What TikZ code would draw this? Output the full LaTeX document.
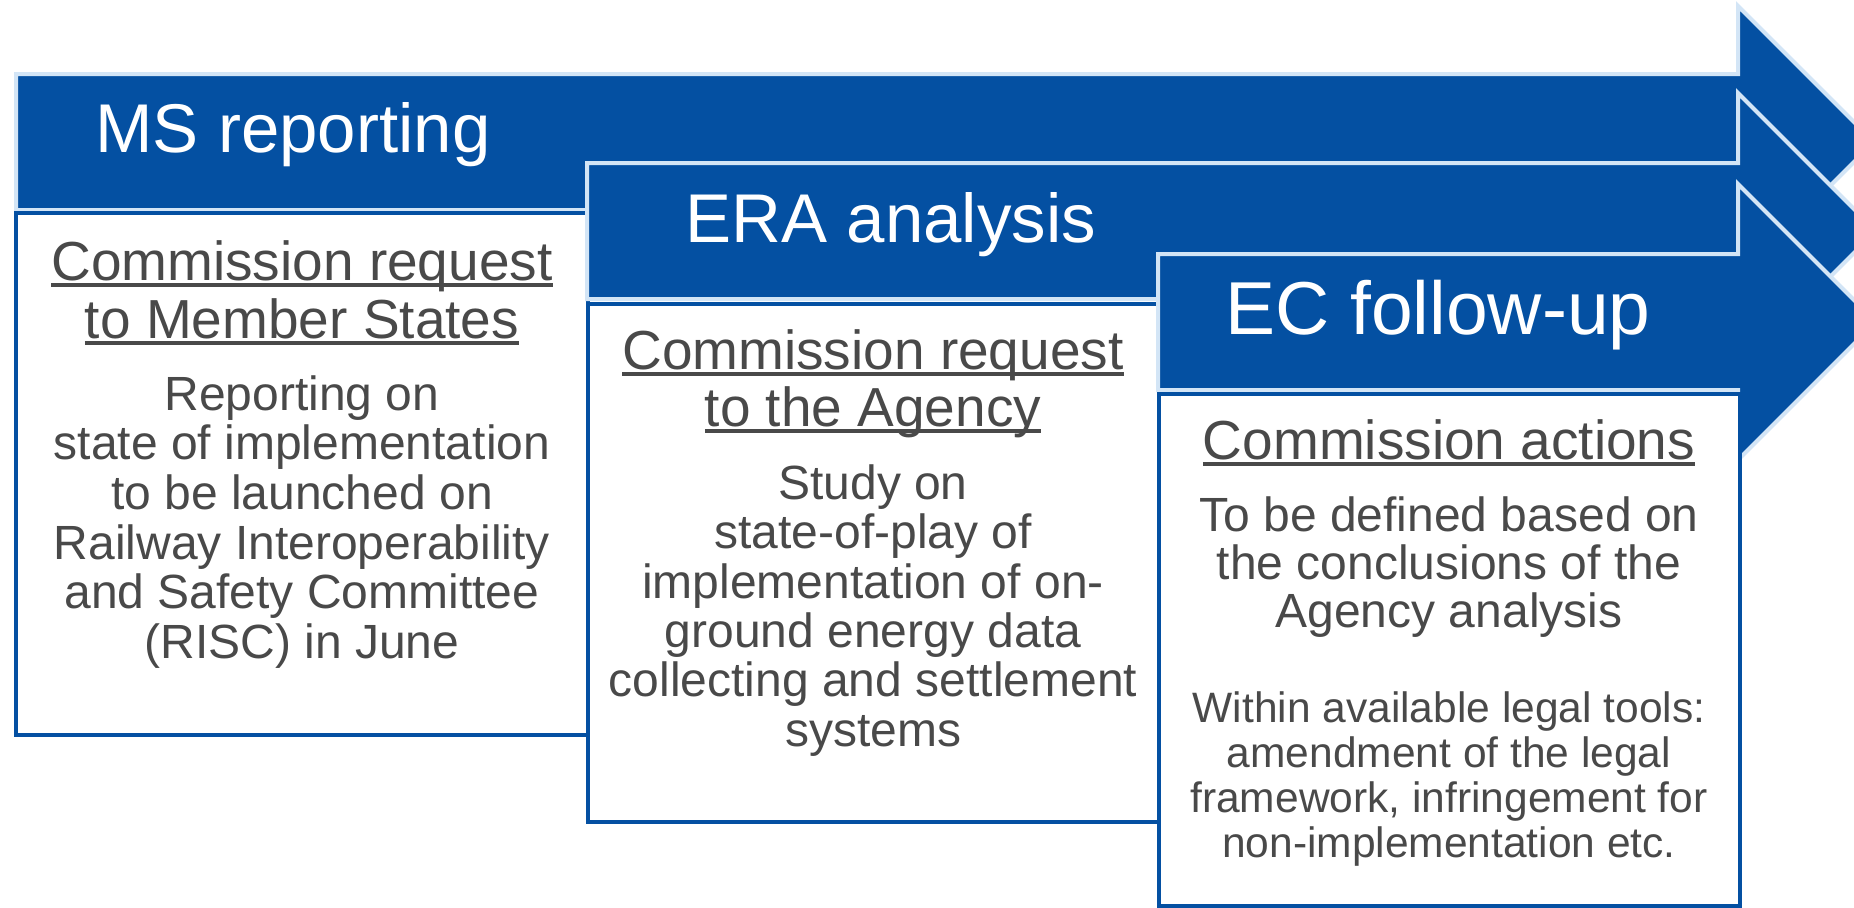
\documentclass[tikz,border=0pt]{standalone}
\usepackage{fontspec}
\setmainfont{Liberation Sans}
\definecolor{eublue}{HTML}{0450A2}
\definecolor{arrowedge}{HTML}{D3E5F6}
\definecolor{txtgray}{HTML}{494949}
\newsavebox\ulbox
\newcommand\ulx[1]{\leavevmode\sbox\ulbox{#1}\rlap{\rule[-0.12em]{\wd\ulbox}{0.065em}}\usebox\ulbox}
\newcommand\firstln{\rule{0pt}{0.8em}}
\tikzset{
  arrowshape/.style={fill=eublue, draw=arrowedge, line width=4pt, line join=miter},
  boxshape/.style={fill=white, draw=eublue, line width=4pt},
  titletext/.style={text=white, font=\fontsize{69}{80}\selectfont, anchor=base, inner sep=0pt},
  headtext/.style={text=txtgray, font=\fontsize{55}{58}\selectfont, align=center, anchor=north, inner sep=0pt},
  bodytext/.style={text=txtgray, font=\fontsize{48}{49.6}\selectfont, align=center, anchor=north, inner sep=0pt},
  smalltext/.style={text=txtgray, font=\fontsize{42.5}{45}\selectfont, align=center, anchor=north, inner sep=0pt}
}
\begin{document}
\begin{tikzpicture}[x=1pt, y=-1pt]
\useasboundingbox (0,0) rectangle (1854,907);
\clip (0,0) rectangle (1854,907);
% arrow 1
\draw[arrowshape] (16,74) -- (1738,74) -- (1738,6) -- (1874,142) -- (1738,278) -- (1738,210) -- (16,210) -- cycle;
\node[titletext] (t1) at (293,152) {MS reporting};
% box 1
\draw[boxshape] (16,213) rectangle (588,735);
\node[headtext] (h1) at (302,236) {\firstln\ulx{Commission request}\\\ulx{to Member States}};
\node[bodytext] (b1) at (302,371.6) {\firstln Reporting on\\state of implementation\\to be launched on\\Railway Interoperability\\and Safety Committee\\(RISC) in June};
% arrow 2
\draw[arrowshape] (587,163) -- (1738,163) -- (1738,93) -- (1876,231) -- (1738,369) -- (1738,299) -- (587,299) -- cycle;
\node[titletext] (t2) at (891,242) {ERA analysis};
% box 2
\draw[boxshape] (588,304) rectangle (1159,822);
\node[headtext, font=\fontsize{55}{57}\selectfont] (h2) at (873,325) {\firstln\ulx{Commission request}\\\ulx{to the Agency}};
\node[bodytext, font=\fontsize{48}{49.4}\selectfont] (b2) at (873,460.6) {\firstln Study on\\state-of-play of\\implementation of on-\\ground energy data\\collecting and settlement\\systems};
% arrow 3
\draw[arrowshape] (1158,254) -- (1738,254) -- (1738,184) -- (1876,322) -- (1738,460) -- (1738,390) -- (1158,390) -- cycle;
\node[titletext, font=\fontsize{75}{86}\selectfont] (t3) at (1438,334) {EC follow-up};
% box 3
\draw[boxshape] (1159,394) rectangle (1740,906);
\node[headtext] (h3) at (1449,415) {\firstln\ulx{Commission actions}};
\node[bodytext, font=\fontsize{48}{48}\selectfont] (b3) at (1449,492.6) {\firstln To be defined based on\\the conclusions of the\\Agency analysis};
\node[smalltext] (s3) at (1449,688) {\firstln Within available legal tools:\\amendment of the legal\\framework, infringement for\\non-implementation etc.};
\end{tikzpicture}
\end{document}
